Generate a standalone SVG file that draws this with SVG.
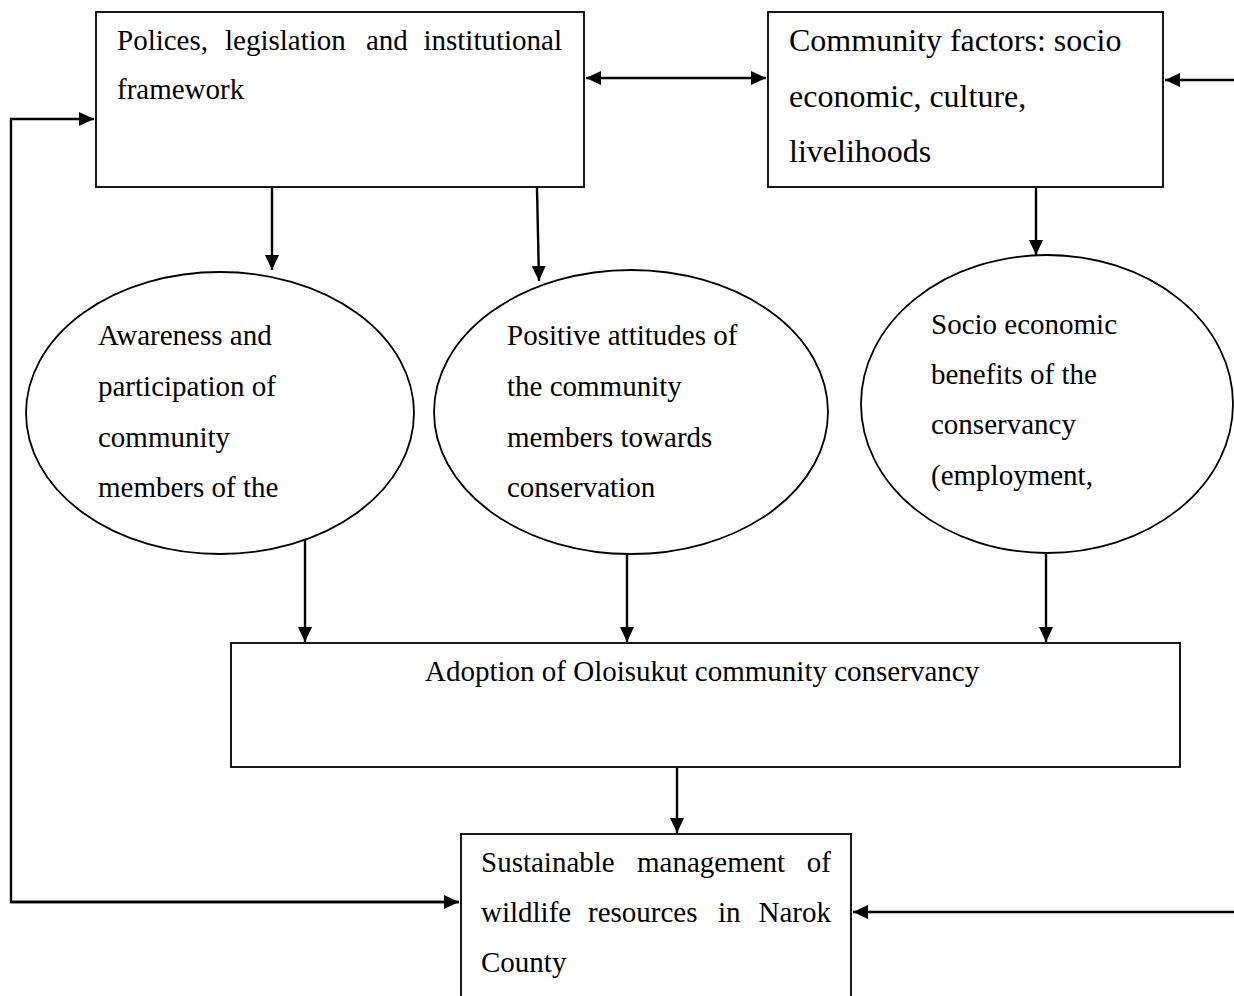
<svg xmlns="http://www.w3.org/2000/svg" width="1234" height="996" viewBox="0 0 1234 996">
<style>
.box{fill:#fff;stroke:#000;stroke-width:1.8}
.ell{fill:#fff;stroke:#000;stroke-width:1.8}
.t{font-family:"Liberation Serif","Times New Roman",serif;font-size:29px;fill:#000}
.t2{font-family:"Liberation Serif","Times New Roman",serif;font-size:32px;fill:#000}
.c{fill:none;stroke:#000;stroke-width:2.4}
</style>
<defs>
<marker id="ah" viewBox="0 0 15 14" refX="15" refY="7" markerWidth="15" markerHeight="14" orient="auto-start-reverse" markerUnits="userSpaceOnUse">
<path d="M0,0 L15,7 L0,14 z" fill="#000"/>
</marker>
</defs>
<rect width="1234" height="996" fill="#fff"/>

<g id="connectors">
<line class="c" x1="586" y1="78" x2="766" y2="78" marker-start="url(#ah)" marker-end="url(#ah)"/>
<line class="c" x1="1234" y1="80" x2="1165" y2="80" marker-end="url(#ah)"/>
<polyline class="c" points="459,902 11,902 11,119 94,119" marker-end="url(#ah)"/>
<line class="c" x1="272" y1="188" x2="272" y2="270" marker-end="url(#ah)"/>
<line class="c" x1="537" y1="188" x2="539" y2="281" marker-end="url(#ah)"/>
<line class="c" x1="1036" y1="188" x2="1036" y2="255" marker-end="url(#ah)"/>
<line class="c" x1="305" y1="540" x2="305" y2="642" marker-end="url(#ah)"/>
<line class="c" x1="627" y1="554" x2="627" y2="642" marker-end="url(#ah)"/>
<line class="c" x1="1046" y1="553" x2="1046" y2="642" marker-end="url(#ah)"/>
<line class="c" x1="677" y1="768" x2="677" y2="833" marker-end="url(#ah)"/>
<line class="c" x1="1234" y1="912" x2="853" y2="912" marker-end="url(#ah)"/>
<line class="c" x1="11" y1="902" x2="459" y2="902" marker-end="url(#ah)"/>
</g>

<g id="policies">
<rect class="box" x="96" y="12" width="488" height="175"/>
<text class="t" y="50"><tspan x="117">Polices,</tspan><tspan x="225">legislation</tspan><tspan x="366">and</tspan></text>
<text class="t" x="562" y="50" text-anchor="end">institutional</text>
<text class="t" x="117" y="99">framework</text>
</g>

<g id="community-factors">
<rect class="box" x="768" y="12" width="395" height="175"/>
<text class="t2" x="789" y="51">Community factors: socio</text>
<text class="t2" x="789" y="107">economic, culture,</text>
<text class="t2" x="789" y="162">livelihoods</text>
</g>

<g id="awareness">
<ellipse class="ell" cx="220" cy="413" rx="194" ry="141"/>
<text class="t" x="98" y="345">Awareness and</text>
<text class="t" x="98" y="396">participation of</text>
<text class="t" x="98" y="447">community</text>
<text class="t" x="98" y="497">members of the</text>
</g>

<g id="attitudes">
<ellipse class="ell" cx="631" cy="412" rx="197" ry="142"/>
<text class="t" x="507" y="345">Positive attitudes of</text>
<text class="t" x="507" y="396">the community</text>
<text class="t" x="507" y="447">members towards</text>
<text class="t" x="507" y="497">conservation</text>
</g>

<g id="benefits">
<ellipse class="ell" cx="1047" cy="404" rx="186" ry="149"/>
<text class="t" x="931" y="334">Socio economic</text>
<text class="t" x="931" y="384">benefits of the</text>
<text class="t" x="931" y="434">conservancy</text>
<text class="t" x="931" y="485">(employment,</text>
</g>

<g id="adoption">
<rect class="box" x="231" y="643" width="949" height="124"/>
<text class="t" x="425" y="681">Adoption of Oloisukut community conservancy</text>
</g>

<g id="sustainable">
<rect class="box" x="461" y="834" width="390" height="200"/>
<text class="t" y="872"><tspan x="481">Sustainable</tspan><tspan x="637">management</tspan></text>
<text class="t" x="831" y="872" text-anchor="end">of</text>
<text class="t" y="922"><tspan x="481">wildlife</tspan><tspan x="588">resources</tspan><tspan x="718">in</tspan></text>
<text class="t" x="831" y="922" text-anchor="end">Narok</text>
<text class="t" x="481" y="972">County</text>
</g>
</svg>
